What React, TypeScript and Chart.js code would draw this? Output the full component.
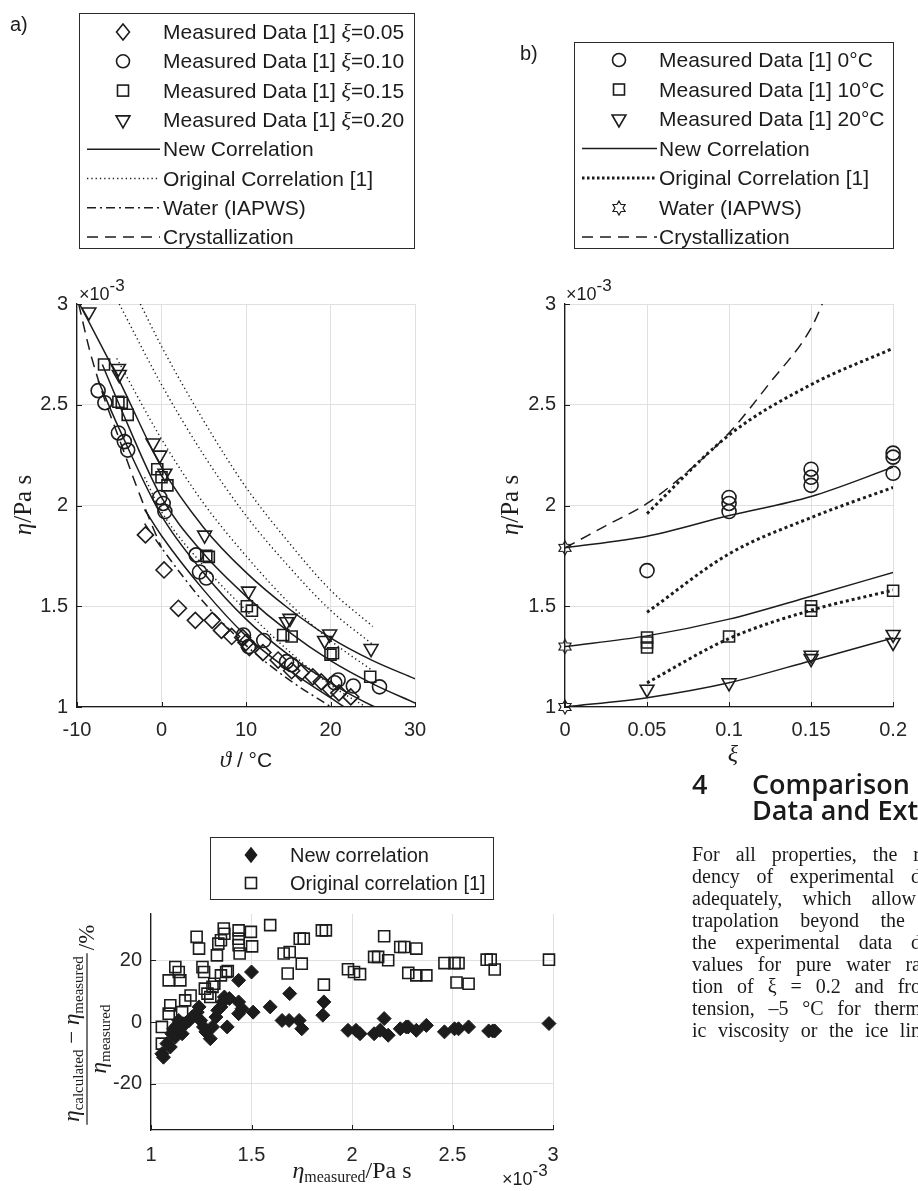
import React, { useEffect, useRef } from 'react';
import { Chart, registerables } from 'chart.js';

Chart.register(...registerables);

const SANS = '"Liberation Sans", Arial, Helvetica, sans-serif';
const SERIF = '"Liberation Serif", "Times New Roman", serif';
const INK = '#1c1c1c';
const GRID = '#e0e0e0';

// ---------- shared eta axis ----------
const ETA_TICKS = [1, 1.5, 2, 2.5, 3];
const ETA_TICK_LABELS = ['1', '1.5', '2', '2.5', '3'];

// ---------- panel a: viscosity vs temperature ----------
const A_T_TICKS = [-10, 0, 10, 20, 30];
const A_T_TICK_LABELS = ['-10', '0', '10', '20', '30'];

const A_MEAS05_T = [-1.9, 0.3, 2.0, 4.0, 6.0, 7.1, 8.3, 9.6, 10.0, 10.4, 12.0, 13.8, 15.4, 16.5, 17.9, 18.9, 20.0, 21.0, 22.4];
const A_MEAS05_ETA = [1.854, 1.68, 1.49, 1.43, 1.43, 1.38, 1.35, 1.345, 1.32, 1.295, 1.27, 1.233, 1.18, 1.17, 1.15, 1.125, 1.088, 1.07, 1.05];

const A_MEAS10_T = [-7.5, -6.7, -5.1, -4.4, -4.0, -0.2, 0.2, 0.4, 4.1, 4.5, 5.3, 9.7, 10.3, 12.1, 14.8, 15.4, 20.5, 20.9, 22.7, 25.8];
const A_MEAS10_ETA = [2.57, 2.51, 2.36, 2.317, 2.275, 2.04, 2.01, 1.97, 1.755, 1.67, 1.64, 1.357, 1.30, 1.33, 1.225, 1.21, 1.12, 1.134, 1.104, 1.10];

const A_MEAS15_T = [-6.8, -5.1, -4.7, -4.0, -0.5, 0.0, 0.7, 5.3, 5.6, 10.1, 10.7, 14.4, 15.4, 20.0, 20.3, 24.7];
const A_MEAS15_ETA = [2.70, 2.515, 2.51, 2.45, 2.18, 2.14, 2.10, 1.75, 1.745, 1.50, 1.478, 1.357, 1.35, 1.26, 1.267, 1.15];

const A_MEAS20_T = [-8.6, -5.1, -5.0, -1.0, -0.2, 0.4, 5.1, 10.3, 14.8, 15.2, 19.3, 19.9, 24.8];
const A_MEAS20_ETA = [2.96, 2.68, 2.65, 2.31, 2.25, 2.16, 1.853, 1.575, 1.423, 1.44, 1.33, 1.362, 1.29];

const A_NEW05_T = [-2, 0, 5, 10, 15, 20, 22];
const A_NEW05_ETA = [1.98, 1.85, 1.58, 1.353, 1.185, 1.046, 0.99];
const A_NEW10_T = [-7.5, -5, 0, 5, 10, 15, 20, 25, 27];
const A_NEW10_ETA = [2.62, 2.38, 1.95, 1.665, 1.436, 1.26, 1.12, 1.005, 0.97];
const A_NEW15_T = [-7, -5, 0, 5, 10, 15, 20, 25, 30];
const A_NEW15_ETA = [2.70, 2.50, 2.04, 1.76, 1.55, 1.375, 1.23, 1.115, 1.02];
const A_NEW20_T = [-9.7, -5, 0, 5, 10, 15, 20, 25, 30];
const A_NEW20_ETA = [3.0, 2.62, 2.19, 1.89, 1.668, 1.49, 1.343, 1.23, 1.14];

const A_ORIG05_T = [-2, 0, 5, 10, 15, 20, 25];
const A_ORIG05_ETA = [2.14, 1.97, 1.70, 1.48, 1.28, 1.11, 0.98];
const A_ORIG10_T = [-5.3, 0, 5, 10, 15, 20, 25];
const A_ORIG10_ETA = [2.73, 2.33, 2.01, 1.75, 1.52, 1.33, 1.18];
const A_ORIG15_T = [-5, 0, 5, 10, 15, 20, 25];
const A_ORIG15_ETA = [3.0, 2.60, 2.25, 1.95, 1.70, 1.48, 1.31];
const A_ORIG20_T = [-2.5, 0, 5, 10, 15, 20, 25];
const A_ORIG20_ETA = [3.0, 2.79, 2.42, 2.09, 1.82, 1.58, 1.40];

const A_WATER_T = [-2, 0, 5, 10, 15, 20];
const A_WATER_ETA = [1.91, 1.79, 1.52, 1.306, 1.138, 1.002];

const A_CRYS_T = [-9.8, -8.5, -7, -5, -3, -1.5, 0];
const A_CRYS_ETA = [3.0, 2.77, 2.56, 2.33, 2.10, 1.94, 1.79];

// ---------- panel b: viscosity vs mass fraction ----------
const B_XI_TICKS = [0, 0.05, 0.1, 0.15, 0.2];
const B_XI_TICK_LABELS = ['0', '0.05', '0.1', '0.15', '0.2'];

const B_NEW_XI = [0, 0.05, 0.1, 0.15, 0.2];
const B_NEW_0C = [1.79, 1.847, 1.95, 2.045, 2.19];
const B_NEW_10C = [1.30, 1.353, 1.436, 1.55, 1.668];
const B_NEW_20C = [1.0, 1.046, 1.12, 1.23, 1.343];

const B_ORIG_XI = [0.05, 0.1, 0.15, 0.2];
const B_ORIG_0C = [1.96, 2.35, 2.60, 2.78];
const B_ORIG_10C = [1.47, 1.76, 1.94, 2.09];
const B_ORIG_20C = [1.12, 1.34, 1.48, 1.58];

const B_CRYS_XI = [0, 0.025, 0.05, 0.075, 0.1, 0.125, 0.15, 0.16];
const B_CRYS_ETA = [1.79, 1.90, 2.01, 2.17, 2.36, 2.61, 2.88, 3.06];

const B_MEAS0C_XI = [0.05, 0.1, 0.1, 0.1, 0.15, 0.15, 0.15, 0.2, 0.2, 0.2];
const B_MEAS0C_ETA = [1.677, 2.04, 2.01, 1.97, 2.18, 2.14, 2.10, 2.26, 2.24, 2.16];
const B_MEAS10C_XI = [0.05, 0.05, 0.05, 0.1, 0.15, 0.15, 0.2];
const B_MEAS10C_ETA = [1.345, 1.32, 1.295, 1.35, 1.50, 1.478, 1.577];
const B_MEAS20C_XI = [0.05, 0.1, 0.15, 0.15, 0.2, 0.2];
const B_MEAS20C_ETA = [1.088, 1.12, 1.257, 1.24, 1.36, 1.32];

const B_WATER_XI = [0, 0, 0];
const B_WATER_ETA = [1.79, 1.30, 1.0];

// ---------- panel c: deviation plot ----------
const C_X_TICKS = [1, 1.5, 2, 2.5, 3];
const C_X_TICK_LABELS = ['1', '1.5', '2', '2.5', '3'];
const C_Y_TICKS = [-20, 0, 20];
const C_Y_TICK_LABELS = ['-20', '0', '20'];

const C_ORIG_X = [1.054, 1.054, 1.088, 1.096, 1.088, 1.121, 1.138, 1.146, 1.155, 1.17, 1.197, 1.227, 1.239, 1.256, 1.264, 1.268, 1.281, 1.295, 1.306, 1.315, 1.328, 1.335, 1.348, 1.362, 1.365, 1.348, 1.374, 1.382, 1.436, 1.436, 1.436, 1.441, 1.497, 1.503, 1.593, 1.66, 1.69, 1.74, 1.76, 1.75, 1.68, 1.85, 1.87, 1.86, 1.98, 2.01, 2.04, 2.11, 2.13, 2.16, 2.18, 2.24, 2.26, 2.32, 2.28, 2.32, 2.37, 2.46, 2.51, 2.53, 2.52, 2.58, 2.67, 2.69, 2.71, 2.98];
const C_ORIG_DEV = [-1.6, -7.0, 2.7, 5.4, 13.5, 17.8, 16.2, 13.5, 3.2, 7.0, 8.6, 27.6, 23.8, 17.8, 16.2, 10.8, 9.2, 8.1, 11.4, 12.4, 21.6, 25.4, 26.5, 30.3, 28.6, 15.1, 16.2, 16.5, 29.7, 27.0, 24.9, 22.2, 29.2, 24.5, 31.4, 22.2, 22.7, 27.0, 27.0, 18.9, 15.7, 29.7, 29.7, 12.1, 17.1, 16.2, 15.5, 21.1, 21.1, 27.8, 20.0, 24.3, 24.3, 23.8, 15.9, 15.1, 15.1, 19.1, 19.1, 19.1, 12.8, 12.4, 20.2, 20.2, 17.0, 20.2];

const C_NEW_X = [1.054, 1.062, 1.079, 1.096, 1.104, 1.113, 1.121, 1.13, 1.138, 1.155, 1.172, 1.19, 1.205, 1.23, 1.239, 1.247, 1.261, 1.273, 1.295, 1.306, 1.323, 1.332, 1.348, 1.357, 1.365, 1.379, 1.39, 1.436, 1.436, 1.436, 1.453, 1.5, 1.508, 1.593, 1.652, 1.69, 1.687, 1.737, 1.75, 1.855, 1.86, 1.98, 2.02, 2.04, 2.11, 2.14, 2.16, 2.18, 2.24, 2.27, 2.28, 2.32, 2.37, 2.46, 2.51, 2.53, 2.58, 2.68, 2.70, 2.71, 2.98];
const C_NEW_DEV = [-10.3, -11.4, -7.0, -8.1, -3.8, -2.2, -4.9, -1.1, 0.5, -3.8, -0.5, 0.5, 1.6, 3.2, 4.9, 0.5, -1.6, -3.2, -5.4, -1.6, 1.6, 3.8, 4.9, 6.5, 8.1, -1.6, 7.6, 13.5, 6.5, 2.7, 4.3, 16.2, 3.2, 4.9, 0.5, 9.2, 0.5, 0.5, -2.2, 2.2, 6.5, -2.7, -2.7, -3.8, -3.8, -2.7, 1.1, -4.3, -2.2, -1.6, -1.6, -2.7, -1.1, -3.2, -2.2, -2.2, -1.6, -2.9, -2.9, -2.9, -0.5];

// ---------- right column text ----------
const HEADING_NUM = '4';
const HEADING_LINES = ['Comparison', 'Data and Extrapolation'];
const BODY_LINES = [
  'For all properties, the r',
  'dency of experimental d',
  'adequately, which allow',
  'trapolation beyond the',
  'the experimental data d',
  'values for pure water ra',
  'tion of ξ = 0.2 and fro',
  'tension, –5 °C for therm',
  'ic viscosity or the ice lin',
];
const BODY_WIDTHS = [228, 229, 224, 213, 229, 229, 229, 229, 229];

// ---------- helpers ----------
type Run = { t: string; f: string; dy?: number };
const pts = (xs: number[], ys: number[]) => xs.map((x, i) => ({ x, y: ys[i] }));
const sans = (t: string, size = 21): Run => ({ t, f: `${size}px ${SANS}` });
const ital = (t: string, size = 22): Run => ({ t, f: `italic ${size}px ${SERIF}` });

function runsWidth(ctx: CanvasRenderingContext2D, runs: Run[]) {
  let w = 0;
  for (const r of runs) { ctx.font = r.f; w += ctx.measureText(r.t).width; }
  return w;
}
function drawRuns(ctx: CanvasRenderingContext2D, runs: Run[], x: number, y: number, align: 'left' | 'center' = 'left') {
  const w = runsWidth(ctx, runs);
  let cx = align === 'center' ? x - w / 2 : x;
  ctx.textAlign = 'left';
  ctx.textBaseline = 'alphabetic';
  ctx.fillStyle = INK;
  for (const r of runs) {
    ctx.font = r.f;
    ctx.fillText(r.t, cx, y + (r.dy || 0));
    cx += ctx.measureText(r.t).width;
  }
}

function makeHexagram(R: number, lw: number) {
  const c = document.createElement('canvas');
  const s = 2 * Math.ceil(R + lw + 1);
  c.width = s; c.height = s;
  const g = c.getContext('2d')!;
  const r = R / Math.sqrt(3);
  g.beginPath();
  for (let i = 0; i < 12; i++) {
    const a = -Math.PI / 2 + i * Math.PI / 6;
    const rad = i % 2 === 0 ? R : r;
    const x = s / 2 + rad * Math.cos(a), y = s / 2 + rad * Math.sin(a);
    if (i === 0) g.moveTo(x, y); else g.lineTo(x, y);
  }
  g.closePath();
  g.strokeStyle = INK; g.lineWidth = lw; g.stroke();
  return c;
}

type Marker =
  | { kind: 'circle'; r: number }
  | { kind: 'rect'; side: number }
  | { kind: 'tri'; r: number }
  | { kind: 'diamond'; w: number; h: number; fill: boolean }
  | { kind: 'img'; img: HTMLCanvasElement };

function drawMarker(ctx: CanvasRenderingContext2D, m: Marker, x: number, y: number) {
  ctx.save();
  ctx.strokeStyle = INK; ctx.fillStyle = INK; ctx.lineWidth = 1.6;
  if (m.kind === 'circle') { ctx.beginPath(); ctx.arc(x, y, m.r, 0, Math.PI * 2); ctx.stroke(); }
  else if (m.kind === 'rect') { ctx.strokeRect(x - m.side / 2, y - m.side / 2, m.side, m.side); }
  else if (m.kind === 'tri') {
    ctx.beginPath();
    for (let i = 0; i < 3; i++) {
      const a = Math.PI / 2 + i * 2 * Math.PI / 3;
      const px = x + m.r * Math.cos(a), py = y + m.r * Math.sin(a);
      if (i === 0) ctx.moveTo(px, py); else ctx.lineTo(px, py);
    }
    ctx.closePath(); ctx.stroke();
  } else if (m.kind === 'diamond') {
    ctx.beginPath();
    ctx.moveTo(x, y - m.h / 2); ctx.lineTo(x + m.w / 2, y); ctx.lineTo(x, y + m.h / 2); ctx.lineTo(x - m.w / 2, y);
    ctx.closePath();
    if (m.fill) ctx.fill();
    ctx.stroke();
  } else { ctx.drawImage(m.img, Math.round(x - m.img.width / 2), Math.round(y - m.img.height / 2)); }
  ctx.restore();
}

type LegendRow = { runs: Run[]; marker?: Marker; line?: { dash: number[]; w: number } };
type LegendGeom = { x: number; y: number; w: number; h: number; row0: number; step: number; lx0: number; lx1: number; mx: number; tx: number };

function drawLegend(ctx: CanvasRenderingContext2D, g: LegendGeom, rows: LegendRow[]) {
  ctx.save();
  ctx.fillStyle = '#ffffff';
  ctx.fillRect(g.x, g.y, g.w, g.h);
  ctx.strokeStyle = '#2a2a2a'; ctx.lineWidth = 1;
  ctx.strokeRect(g.x, g.y, g.w, g.h);
  rows.forEach((row, i) => {
    const cy = g.row0 + i * g.step;
    if (row.line) {
      ctx.save();
      ctx.strokeStyle = INK; ctx.lineWidth = row.line.w; ctx.setLineDash(row.line.dash);
      ctx.beginPath(); ctx.moveTo(g.lx0, cy); ctx.lineTo(g.lx1, cy); ctx.stroke();
      ctx.restore();
    }
    if (row.marker) drawMarker(ctx, row.marker, g.mx, cy);
    drawRuns(ctx, row.runs, g.tx, cy + 7, 'left');
  });
  ctx.restore();
}

function drawInwardTicks(chart: any, xt: number[], yt: number[], len = 5) {
  const { ctx, chartArea: a, scales } = chart;
  ctx.save();
  ctx.strokeStyle = INK; ctx.lineWidth = 1;
  for (const v of xt) {
    const p = Math.round(scales.x.getPixelForValue(v)) + 0.5;
    ctx.beginPath(); ctx.moveTo(p, a.bottom); ctx.lineTo(p, a.bottom - len); ctx.stroke();
  }
  for (const v of yt) {
    const p = Math.round(scales.y.getPixelForValue(v)) + 0.5;
    ctx.beginPath(); ctx.moveTo(a.left, p); ctx.lineTo(a.left + len, p); ctx.stroke();
  }
  ctx.restore();
}

function exponentLabel(ctx: CanvasRenderingContext2D, x: number, y: number) {
  drawRuns(ctx, [sans('×10', 18), { t: '-3', f: `17px ${SANS}`, dy: -9 }], x, y, 'left');
}

function axis(min: number, max: number, ticks: number[], labels: string[], size: { width?: number; height?: number }, pad: number) {
  return {
    type: 'linear' as const,
    min, max,
    afterBuildTicks: (s: any) => { s.ticks = ticks.map((v) => ({ value: v })); },
    afterFit: (s: any) => {
      if (size.width !== undefined) s.width = size.width;
      if (size.height !== undefined) s.height = size.height;
    },
    grid: { color: GRID, lineWidth: 1, drawTicks: false },
    border: { display: true, color: INK, width: 1.3 },
    ticks: {
      font: { family: SANS, size: 20 },
      color: '#262626',
      padding: pad,
      autoSkip: false,
      maxRotation: 0,
      callback: (_v: any, i: number) => labels[i] ?? '',
    },
  };
}

function lineDs(label: string, xs: number[], ys: number[], dash: number[], width = 1.5) {
  return {
    label, data: pts(xs, ys), showLine: true, borderColor: INK, borderWidth: width, borderDash: dash,
    pointRadius: 0, pointHoverRadius: 0, cubicInterpolationMode: 'monotone' as const, clip: 0, fill: false,
  };
}
function markDs(label: string, xs: number[], ys: number[], style: any, radius: number, extra: any = {}) {
  return {
    label, data: pts(xs, ys), showLine: false, pointStyle: style, pointRadius: radius, pointHoverRadius: radius,
    pointBorderColor: INK, pointBackgroundColor: 'rgba(0,0,0,0)', pointBorderWidth: 1.6, clip: false, ...extra,
  };
}

const baseOptions = (padding: any, scales: any) => ({
  responsive: false,
  maintainAspectRatio: false,
  animation: false as const,
  events: [] as any[],
  layout: { padding },
  plugins: { legend: { display: false }, tooltip: { enabled: false } },
  scales,
});

// ---------- panel builders ----------
function buildA() {
  const rowsA: LegendRow[] = [
    { runs: [sans('Measured Data [1] '), ital('ξ'), sans('=0.05')], marker: { kind: 'diamond', w: 13, h: 16, fill: false } },
    { runs: [sans('Measured Data [1] '), ital('ξ'), sans('=0.10')], marker: { kind: 'circle', r: 6.5 } },
    { runs: [sans('Measured Data [1] '), ital('ξ'), sans('=0.15')], marker: { kind: 'rect', side: 11 } },
    { runs: [sans('Measured Data [1] '), ital('ξ'), sans('=0.20')], marker: { kind: 'tri', r: 8 } },
    { runs: [sans('New Correlation')], line: { dash: [], w: 1.5 } },
    { runs: [sans('Original Correlation [1]')], line: { dash: [1.3, 3], w: 1.3 } },
    { runs: [sans('Water (IAPWS)')], line: { dash: [9, 4, 2, 4], w: 1.5 } },
    { runs: [sans('Crystallization')], line: { dash: [11, 7], w: 1.5 } },
  ];
  return {
    type: 'scatter' as const,
    data: {
      datasets: [
        lineDs('New Correlation ξ=0.05', A_NEW05_T, A_NEW05_ETA, []),
        lineDs('New Correlation ξ=0.10', A_NEW10_T, A_NEW10_ETA, []),
        lineDs('New Correlation ξ=0.15', A_NEW15_T, A_NEW15_ETA, []),
        lineDs('New Correlation ξ=0.20', A_NEW20_T, A_NEW20_ETA, []),
        lineDs('Original Correlation ξ=0.05', A_ORIG05_T, A_ORIG05_ETA, [1.3, 3], 1.4),
        lineDs('Original Correlation ξ=0.10', A_ORIG10_T, A_ORIG10_ETA, [1.3, 3], 1.4),
        lineDs('Original Correlation ξ=0.15', A_ORIG15_T, A_ORIG15_ETA, [1.3, 3], 1.4),
        lineDs('Original Correlation ξ=0.20', A_ORIG20_T, A_ORIG20_ETA, [1.3, 3], 1.4),
        lineDs('Water (IAPWS)', A_WATER_T, A_WATER_ETA, [9, 4, 2, 4]),
        lineDs('Crystallization', A_CRYS_T, A_CRYS_ETA, [11, 7]),
        markDs('Measured ξ=0.05', A_MEAS05_T, A_MEAS05_ETA, 'rectRot', 8),
        markDs('Measured ξ=0.10', A_MEAS10_T, A_MEAS10_ETA, 'circle', 7),
        markDs('Measured ξ=0.15', A_MEAS15_T, A_MEAS15_ETA, 'rect', 7.8),
        markDs('Measured ξ=0.20', A_MEAS20_T, A_MEAS20_ETA, 'triangle', 8, { pointRotation: 180 }),
      ],
    },
    options: baseOptions({ top: 304, right: 45, bottom: 33, left: 0 }, {
      x: axis(-10, 30, A_T_TICKS, A_T_TICK_LABELS, { height: 60 }, 11),
      y: axis(1, 3, ETA_TICKS, ETA_TICK_LABELS, { width: 77 }, 9),
    }),
    plugins: [{
      id: 'decorA',
      afterDraw: (chart: any) => {
        const ctx = chart.ctx as CanvasRenderingContext2D;
        drawInwardTicks(chart, A_T_TICKS, ETA_TICKS);
        drawRuns(ctx, [ital('ϑ', 23), sans(' / °C', 21)], 246, 767, 'center');
        ctx.save(); ctx.translate(31, 505); ctx.rotate(-Math.PI / 2);
        drawRuns(ctx, [{ t: 'η', f: `italic 25px ${SERIF}` }, { t: '/Pa s', f: `25px ${SERIF}` }], 0, 0, 'center');
        ctx.restore();
        exponentLabel(ctx, 79, 300);
        drawRuns(ctx, [sans('a)', 20)], 10, 31);
        drawLegend(ctx, { x: 79.5, y: 13.5, w: 335, h: 235, row0: 32, step: 29.3, lx0: 87, lx1: 160, mx: 123, tx: 163 }, rowsA);
      },
    }],
  };
}

function buildB() {
  const hex = makeHexagram(7, 1.2);
  const rowsB: LegendRow[] = [
    { runs: [sans('Measured Data [1] 0°C')], marker: { kind: 'circle', r: 6.5 } },
    { runs: [sans('Measured Data [1] 10°C')], marker: { kind: 'rect', side: 11 } },
    { runs: [sans('Measured Data [1] 20°C')], marker: { kind: 'tri', r: 8 } },
    { runs: [sans('New Correlation')], line: { dash: [], w: 1.5 } },
    { runs: [sans('Original Correlation [1]')], line: { dash: [2.5, 2.5], w: 3 } },
    { runs: [sans('Water (IAPWS)')], marker: { kind: 'img', img: hex } },
    { runs: [sans('Crystallization')], line: { dash: [11, 7], w: 1.5 } },
  ];
  return {
    type: 'scatter' as const,
    data: {
      datasets: [
        lineDs('New Correlation 0°C', B_NEW_XI, B_NEW_0C, []),
        lineDs('New Correlation 10°C', B_NEW_XI, B_NEW_10C, []),
        lineDs('New Correlation 20°C', B_NEW_XI, B_NEW_20C, []),
        lineDs('Original Correlation 0°C', B_ORIG_XI, B_ORIG_0C, [3, 3], 3),
        lineDs('Original Correlation 10°C', B_ORIG_XI, B_ORIG_10C, [3, 3], 3),
        lineDs('Original Correlation 20°C', B_ORIG_XI, B_ORIG_20C, [3, 3], 3),
        lineDs('Crystallization', B_CRYS_XI, B_CRYS_ETA, [11, 7]),
        markDs('Measured 0°C', B_MEAS0C_XI, B_MEAS0C_ETA, 'circle', 7),
        markDs('Measured 10°C', B_MEAS10C_XI, B_MEAS10C_ETA, 'rect', 7.8),
        markDs('Measured 20°C', B_MEAS20C_XI, B_MEAS20C_ETA, 'triangle', 8, { pointRotation: 180 }),
        markDs('Water (IAPWS)', B_WATER_XI, B_WATER_ETA, hex, 7),
      ],
    },
    options: baseOptions({ top: 304, right: 15, bottom: 33, left: 0 }, {
      x: axis(0, 0.2, B_XI_TICKS, B_XI_TICK_LABELS, { height: 60 }, 11),
      y: axis(1, 3, ETA_TICKS, ETA_TICK_LABELS, { width: 105 }, 9),
    }),
    plugins: [{
      id: 'decorB',
      afterDraw: (chart: any) => {
        const ctx = chart.ctx as CanvasRenderingContext2D;
        drawInwardTicks(chart, B_XI_TICKS, ETA_TICKS);
        drawRuns(ctx, [ital('ξ', 24)], 273, 761, 'center');
        ctx.save(); ctx.translate(58, 505); ctx.rotate(-Math.PI / 2);
        drawRuns(ctx, [{ t: 'η', f: `italic 25px ${SERIF}` }, { t: '/Pa s', f: `25px ${SERIF}` }], 0, 0, 'center');
        ctx.restore();
        exponentLabel(ctx, 106, 300);
        drawRuns(ctx, [sans('b)', 20)], 60, 60);
        drawLegend(ctx, { x: 114.5, y: 42.5, w: 319, h: 206, row0: 60, step: 29.5, lx0: 122, lx1: 197, mx: 159, tx: 199 }, rowsB);
      },
    }],
  };
}

function buildC() {
  const rowsC: LegendRow[] = [
    { runs: [sans('New correlation', 20)], marker: { kind: 'diamond', w: 11, h: 14, fill: true } },
    { runs: [sans('Original correlation [1]', 20)], marker: { kind: 'rect', side: 11 } },
  ];
  return {
    type: 'scatter' as const,
    data: {
      datasets: [
        markDs('Original correlation [1]', C_ORIG_X, C_ORIG_DEV, 'rect', 7.8),
        markDs('New correlation', C_NEW_X, C_NEW_DEV, 'rectRot', 7, { pointBackgroundColor: INK, pointBorderWidth: 1 }),
      ],
    },
    options: baseOptions({ top: 94, right: 47, bottom: 11, left: 0 }, {
      x: axis(1, 3, C_X_TICKS, C_X_TICK_LABELS, { height: 50 }, 13),
      y: axis(-35, 35, C_Y_TICKS, C_Y_TICK_LABELS, { width: 151 }, 9),
    }),
    plugins: [{
      id: 'decorC',
      afterDraw: (chart: any) => {
        const ctx = chart.ctx as CanvasRenderingContext2D;
        drawInwardTicks(chart, C_X_TICKS, C_Y_TICKS);
        drawRuns(ctx, [
          { t: 'η', f: `italic 24px ${SERIF}` },
          { t: 'measured', f: `16px ${SERIF}`, dy: 4 },
          { t: '/Pa s', f: `24px ${SERIF}` },
        ], 352, 358, 'center');
        exponentLabel(ctx, 502, 365);
        ctx.save();
        ctx.translate(87, 219);
        ctx.rotate(-Math.PI / 2);
        const big = `italic 23px ${SERIF}`, sub = `15px ${SERIF}`, rom = `23px ${SERIF}`;
        const num: Run[] = [{ t: 'η', f: big }, { t: 'calculated', f: sub, dy: 4 }, { t: ' − ', f: rom }, { t: 'η', f: big }, { t: 'measured', f: sub, dy: 4 }];
        const den: Run[] = [{ t: 'η', f: big }, { t: 'measured', f: sub, dy: 4 }];
        drawRuns(ctx, num, 0, -8, 'center');
        drawRuns(ctx, den, 0, 19, 'center');
        const w = Math.max(runsWidth(ctx, num), runsWidth(ctx, den)) + 6;
        ctx.fillStyle = INK;
        ctx.fillRect(-w / 2, -0.6, w, 1.2);
        drawRuns(ctx, [{ t: '/%', f: rom }], w / 2 + 3, 7, 'left');
        ctx.restore();
        drawLegend(ctx, { x: 210.5, y: 17.5, w: 283, h: 62, row0: 35, step: 28, lx0: 0, lx1: 0, mx: 251, tx: 290 }, rowsC);
      },
    }],
  };
}

function ChartBox({ build, left, top, width, height }: { build: () => any; left: number; top: number; width: number; height: number }) {
  const ref = useRef<HTMLCanvasElement>(null);
  useEffect(() => {
    const chart = new Chart(ref.current!, build());
    return () => chart.destroy();
  }, []);
  return <canvas ref={ref} width={width} height={height} style={{ position: 'absolute', left, top, width, height }} />;
}

const HEAD_BASELINES = [793, 819];
const BODY_BASELINE0 = 860;
const BODY_STEP = 22;
const HEAD_FONT = `600 27px "Open Sans", "Noto Sans", sans-serif`;

export default function App() {
  useEffect(() => { document.body.style.margin = '0'; }, []);
  return (
    <div style={{ position: 'absolute', left: 0, top: 0, width: 918, height: 1191, overflow: 'hidden', background: '#fff' }}>
      <ChartBox build={buildA} left={0} top={0} width={460} height={800} />
      <ChartBox build={buildB} left={460} top={0} width={458} height={800} />
      <ChartBox build={buildC} left={0} top={820} width={600} height={371} />
      <div style={{ position: 'absolute', left: 692, top: HEAD_BASELINES[0] - 22, font: HEAD_FONT, lineHeight: '26px', color: '#1a1a1a' }}>{HEADING_NUM}</div>
      {HEADING_LINES.map((t, i) => (
        <div key={t} style={{ position: 'absolute', left: 752, top: HEAD_BASELINES[i] - 22, font: HEAD_FONT, lineHeight: '26px', whiteSpace: 'nowrap', color: '#1a1a1a' }}>{t}</div>
      ))}
      {BODY_LINES.map((t, i) => (
        <div key={i} style={{ position: 'absolute', left: 692, top: BODY_BASELINE0 + i * BODY_STEP - 16, width: BODY_WIDTHS[i], font: `20px ${SERIF}`, lineHeight: '20px', whiteSpace: 'nowrap', textAlign: 'justify', textAlignLast: 'justify' as any, color: '#1a1a1a' }}>{t}</div>
      ))}
    </div>
  );
}
